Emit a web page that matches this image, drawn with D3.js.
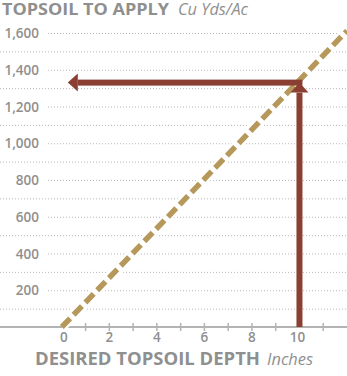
<!DOCTYPE html>
<html>
<head>
<meta charset="utf-8">
<script src="https://cdn.jsdelivr.net/npm/d3@7"></script>
<style>
  body { margin: 0; background: #fff; }
  svg { display: block; font-family: "Open Sans", sans-serif; }
</style>
</head>
<body>
<svg class="js-render-chart" width="347" height="376"></svg>
<script>
"use strict";

//data

const lineDepth = [0, 12];
const lineTopsoil = [0, 1612];
const xTickLabels = [0, 2, 4, 6, 8, 10];
const xTickMarks = [1, 2, 3, 4, 5, 6, 7, 8, 9, 11];
const gridValues = d3.range(100, 1700, 100);
const yTickLabels = [200, 400, 600, 800, 1000, 1200, 1400, 1600];
const pickDepth = 10;
const pickTopsoil = 1330;

//colors

const gray = "#8f8f8f";
const red = "#8a3f32";
const tan = "#b5985a";

//scales

const svg = d3.select(".js-render-chart");

const x = d3.scaleLinear().domain([0, 12]).range([61.8, 347]);
const y = d3.scaleLinear().domain([0, 1600]).range([327, 33]);

//grid

svg.append("g")
  .selectAll("line")
  .data(gridValues)
  .join("line")
  .attr("x1", (d) => yTickLabels.includes(d) ? 48 : 0)
  .attr("x2", 347)
  .attr("y1", (d) => y(d) + 0.5)
  .attr("y2", (d) => y(d) + 0.5)
  .attr("stroke", "#b9b9b9")
  .attr("stroke-width", 1)
  .attr("stroke-dasharray", "1,2");

//y labels

svg.append("g")
  .selectAll("text")
  .data(yTickLabels)
  .join("text")
  .attr("x", 39)
  .attr("y", (d) => y(d) + 5)
  .attr("text-anchor", "end")
  .attr("fill", gray)
  .attr("font-size", 13.5)
  .attr("font-weight", 600)
  .text(d3.format(","));

//x axis

svg.append("line")
  .attr("x1", 0)
  .attr("x2", 347)
  .attr("y1", y(0))
  .attr("y2", y(0))
  .attr("stroke", "#b3b3b3")
  .attr("stroke-width", 2);

svg.append("g")
  .selectAll("line")
  .data(xTickMarks)
  .join("line")
  .attr("x1", (d) => x(d))
  .attr("x2", (d) => x(d))
  .attr("y1", y(0) - 4)
  .attr("y2", y(0) + 4)
  .attr("stroke", "#b3b3b3")
  .attr("stroke-width", 1.5);

svg.append("g")
  .selectAll("text")
  .data(xTickLabels)
  .join("text")
  .attr("x", (d) => x(d) + (d === 0 ? 2 : d === 10 ? -2 : 0))
  .attr("y", 342)
  .attr("text-anchor", "middle")
  .attr("fill", gray)
  .attr("font-size", 13.5)
  .attr("font-weight", 600)
  .text((d) => d);

//dashed line

const line = d3.line()
  .x((d) => x(d[0]))
  .y((d) => y(d[1]));

const pts = d3.zip(lineDepth, lineTopsoil);

svg.append("path")
  .attr("d", line(pts))
  .attr("stroke", "#fff")
  .attr("stroke-width", 10)
  .attr("fill", "none");

svg.append("path")
  .attr("d", line(pts))
  .attr("stroke", tan)
  .attr("stroke-width", 5.5)
  .attr("stroke-dasharray", "12,5")
  .attr("fill", "none");

//arrows

const px = x(pickDepth);
const py = y(pickTopsoil);
const bw = 6;
const head = 10;
const half = 9;

svg.append("rect")
  .attr("x", px - bw / 2)
  .attr("y", py + head)
  .attr("width", bw)
  .attr("height", y(0) - py - head)
  .attr("fill", red);

svg.append("path")
  .attr("d", `M${px - half},${py + head}L${px},${py}L${px + half},${py + head}Z`)
  .attr("fill", red);

const hx = x(0) + 6;

svg.append("rect")
  .attr("x", hx + head)
  .attr("y", py - bw / 2)
  .attr("width", px + bw / 2 - hx - head)
  .attr("height", bw)
  .attr("fill", red);

svg.append("path")
  .attr("d", `M${hx + head},${py - half}L${hx},${py}L${hx + head},${py + half}Z`)
  .attr("fill", red);

//titles

const titleText = (parts, yPos, size) => {

  const t = svg.append("text")
    .attr("y", yPos)
    .attr("fill", gray)
    .attr("font-size", size);

  parts.forEach((p) => {
    t.append("tspan")
      .attr("x", p.x)
      .attr("font-weight", p.italic ? 400 : 700)
      .attr("font-style", p.italic ? "italic" : "normal")
      .attr("textLength", p.w)
      .attr("lengthAdjust", "spacingAndGlyphs")
      .text(p.s);
  });

};

titleText([
  { s: "TOPSOIL TO APPLY", x: 2, w: 167 },
  { s: "Cu Yds/Ac", x: 178, w: 70, italic: true }
], 15, 16);

titleText([
  { s: "DESIRED TOPSOIL DEPTH", x: 35, w: 225 },
  { s: "Inches", x: 267, w: 46, italic: true }
], 365, 17);

</script>
</body>
</html>
